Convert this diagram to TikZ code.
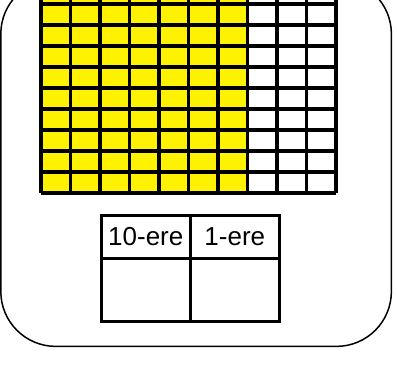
\documentclass[tikz,border=0pt]{standalone}
\usepackage{fontspec}
\setmainfont{Liberation Sans}
\usetikzlibrary{positioning}
\begin{document}
\begin{tikzpicture}[x=1pt, y=-1pt,
    gridline/.style={line width=3.1pt},
    tabcell/.style={draw, line width=2.6pt, minimum width=89pt, inner sep=0pt,
      font=\fontsize{26}{30}\selectfont},
    headcell/.style={tabcell, minimum height=43pt},
    emptycell/.style={tabcell, minimum height=63pt}]
  \useasboundingbox (0,0) rectangle (397,383);
  \clip (0,0) rectangle (397,383);
  % frame, top cut off
  \draw[line width=1.5pt, rounded corners=55pt] (0.8,-21) rectangle (391.4,346.4);
  % hundred square, 70 cells yellow
  \fill[yellow] (41,-17) rectangle (247.5,193);
  \foreach \i in {0,...,10}
    \draw[gridline] (41+29.5*\i,-17) -- (41+29.5*\i,193);
  \foreach \j in {0,...,10}
    \draw[gridline] (41,-17+21*\j) -- (336,-17+21*\j);
  % place value table
  \node[headcell, anchor=north west] (tens) at (100,214) {10-ere};
  \node[headcell, right=-2.6pt of tens] (ones) {1-ere};
  \node[emptycell, below=-2.6pt of tens] (tensval) {};
  \node[emptycell, below=-2.6pt of ones] (onesval) {};
\end{tikzpicture}
\end{document}
